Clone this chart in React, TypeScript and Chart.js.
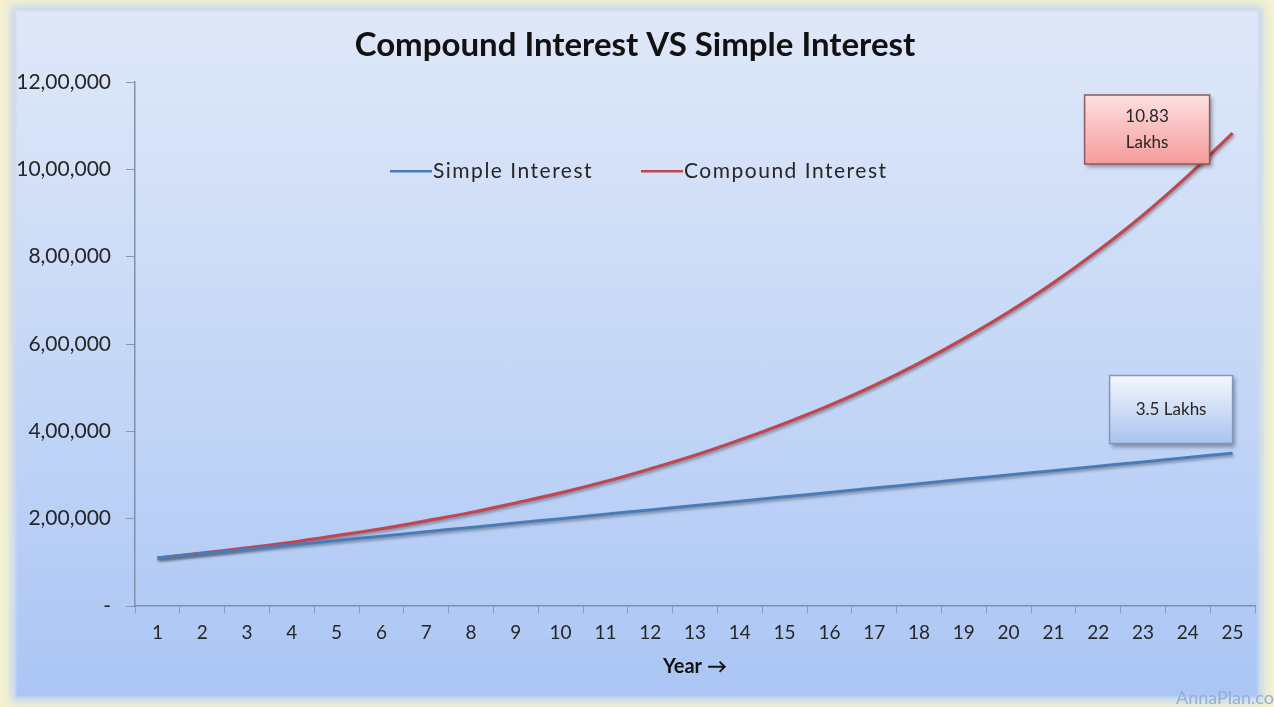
import React, { useEffect, useRef } from "react";
import { Chart, registerables } from "chart.js";

Chart.register(...registerables);

const years = ["1","2","3","4","5","6","7","8","9","10","11","12","13","14","15","16","17","18","19","20","21","22","23","24","25"];
const simpleInterest = [110000,120000,130000,140000,150000,160000,170000,180000,190000,200000,210000,220000,230000,240000,250000,260000,270000,280000,290000,300000,310000,320000,330000,340000,350000];
const compoundInterest = [110000,121000,133000,146000,161000,177000,195000,214000,236000,259000,285000,314000,345000,380000,418000,459000,505000,556000,612000,673000,740000,814000,895000,985000,1083000];
const yMin = 0;
const yMax = 1200000;
const yStep = 200000;
const chartTitle = "Compound Interest VS Simple Interest";
const xAxisTitle = "Year \u2192";
const seriesNames = ["Simple Interest", "Compound Interest"];
const compoundNote = ["10.83", "Lakhs"];
const simpleNote = ["3.5 Lakhs"];
const watermark = "AnnaPlan.com";

const BLUE = "#4a7bb7";
const RED = "#c0464f";
const FONT = "Lato, 'Open Sans', sans-serif";

function indian(v: number): string {
  if (v === 0) return "-";
  const s = String(Math.round(v));
  if (s.length <= 3) return s;
  const last3 = s.slice(-3);
  let rest = s.slice(0, -3);
  const parts: string[] = [];
  while (rest.length > 2) {
    parts.unshift(rest.slice(-2));
    rest = rest.slice(0, -2);
  }
  if (rest.length) parts.unshift(rest);
  return parts.join(",") + "," + last3;
}

const decorPlugin = {
  id: "decor",
  beforeDatasetDraw(chart: any) {
    const ctx = chart.ctx;
    ctx.save();
    ctx.shadowColor = "rgba(0,0,0,0.35)";
    ctx.shadowBlur = 3;
    ctx.shadowOffsetX = 1;
    ctx.shadowOffsetY = 2;
  },
  afterDatasetDraw(chart: any) {
    chart.ctx.restore();
  },
  afterDraw(chart: any) {
    const ctx: any = chart.ctx;
    const x = chart.scales.x;
    const y = chart.scales.y;
    // title
    ctx.save();
    ctx.fillStyle = "#111";
    ctx.font = `bold 33px ${FONT}`;
    ctx.textAlign = "center";
    ctx.textBaseline = "middle";
    ctx.fillText(chartTitle, 635, 45);
    ctx.restore();

    // legend
    ctx.save();
    ctx.font = `21px ${FONT}`;
    ctx.letterSpacing = "1.5px";
    ctx.textBaseline = "middle";
    ctx.textAlign = "left";
    const ly = y.getPixelForValue(1000000) + 2;
    const items = [
      { name: seriesNames[0], color: BLUE, x0: 390 },
      { name: seriesNames[1], color: RED, x0: 641 },
    ];
    items.forEach((it) => {
      ctx.strokeStyle = it.color;
      ctx.lineWidth = 2.5;
      ctx.beginPath();
      ctx.moveTo(it.x0, ly);
      ctx.lineTo(it.x0 + 42, ly);
      ctx.stroke();
      ctx.fillStyle = "#262626";
      ctx.fillText(it.name, it.x0 + 43, ly);
    });
    ctx.restore();

    const drawBox = (bx: number, by: number, bw: number, bh: number, top: string, bottom: string, border: string, lines: string[]) => {
      ctx.save();
      ctx.shadowColor = "rgba(0,0,0,0.35)";
      ctx.shadowBlur = 4;
      ctx.shadowOffsetX = 2;
      ctx.shadowOffsetY = 3;
      const g = ctx.createLinearGradient(0, by, 0, by + bh);
      g.addColorStop(0, top);
      g.addColorStop(1, bottom);
      ctx.fillStyle = g;
      ctx.beginPath();
      ctx.rect(bx, by, bw, bh);
      ctx.fill();
      ctx.shadowColor = "transparent";
      ctx.strokeStyle = border;
      ctx.lineWidth = 1.5;
      ctx.stroke();
      ctx.fillStyle = "#262626";
      ctx.font = `17px ${FONT}`;
      ctx.textAlign = "center";
      ctx.textBaseline = "middle";
      const cx = bx + bw / 2;
      const lh = 26;
      const startY = by + bh / 2 - ((lines.length - 1) * lh) / 2;
      lines.forEach((t: string, i: number) => ctx.fillText(t, cx, startY + i * lh));
      ctx.restore();
    };
    const xLast = x.getPixelForValue(years.length - 1);
    const cTop = y.getPixelForValue(1170000);
    const cBot = y.getPixelForValue(1012000);
    drawBox(xLast - 148, cTop, 125, cBot - cTop, "#fde0e0", "#f59b9b", "#8a5a5e", compoundNote);
    const sTop = y.getPixelForValue(528000);
    const sBot = y.getPixelForValue(372000);
    drawBox(xLast - 123, sTop, 123, sBot - sTop, "#f4f7fd", "#a9c3ee", "#7d98c2", simpleNote);

    // watermark
    ctx.save();
    ctx.fillStyle = "#8fb0d8";
    ctx.font = `18px ${FONT}`;
    ctx.textAlign = "left";
    ctx.textBaseline = "alphabetic";
    ctx.fillText(watermark, 1176, 704);
    ctx.restore();
  },
};

export default function App() {
  const ref = useRef<HTMLCanvasElement | null>(null);
  useEffect(() => {
    document.body.style.margin = "0";
    if (!ref.current) return;
    const chart = new Chart(ref.current, {
      type: "line",
      data: {
        labels: years,
        datasets: [
          { label: seriesNames[0], data: simpleInterest, borderColor: BLUE, backgroundColor: BLUE, borderWidth: 3, tension: 0.4, pointRadius: 0, fill: false },
          { label: seriesNames[1], data: compoundInterest, borderColor: RED, backgroundColor: RED, borderWidth: 3.2, tension: 0.4, pointRadius: 0, fill: false },
        ],
      },
      options: {
        responsive: false,
        maintainAspectRatio: false,
        animation: false,
        layout: { padding: { top: 82, left: 0, right: 19, bottom: 20 } },
        plugins: { legend: { display: false }, title: { display: false }, tooltip: { enabled: false } },
        scales: {
          x: {
            type: "category",
            offset: true,
            grid: { display: true, drawOnChartArea: false, drawTicks: true, tickLength: 7, color: "#8898b3", offset: true },
            border: { color: "#7f90ab", width: 1.5 },
            ticks: { color: "#262626", font: { family: FONT, size: 19 }, padding: 8, maxRotation: 0, autoSkip: false },
            title: { display: true, text: xAxisTitle, color: "#111", font: { family: FONT, size: 20, weight: "bold" }, padding: { top: 0, bottom: 8 } },
            afterFit: (s: any) => { s.height = 81; },
          },
          y: {
            min: yMin,
            max: yMax,
            grid: { display: true, drawOnChartArea: false, drawTicks: true, tickLength: 9, color: "#8898b3" },
            border: { color: "#7f90ab", width: 1.5 },
            ticks: { stepSize: yStep, color: "#262626", font: { family: FONT, size: 21 }, padding: 15, callback: (v: any) => indian(Number(v)) },
            afterFit: (s: any) => { s.width = 135; },
          },
        },
      },
      plugins: [decorPlugin],
    } as any);
    return () => chart.destroy();
  }, []);

  return (
    <div style={{ position: "relative", width: 1274, height: 707, background: "#f3f1d0", overflow: "hidden" }}>
      <div
        style={{
          position: "absolute",
          left: 16,
          top: 11,
          width: 1242,
          height: 686,
          background: "linear-gradient(to bottom, #dfe8f8 0%, #c9daf7 45%, #abc6f5 100%)",
          boxShadow: "0 0 8px 5px #c2d4f2",
          filter: "blur(1px)",
        }}
      />
      <canvas ref={ref} width={1274} height={707} style={{ position: "absolute", left: 0, top: 0 }} />
    </div>
  );
}
